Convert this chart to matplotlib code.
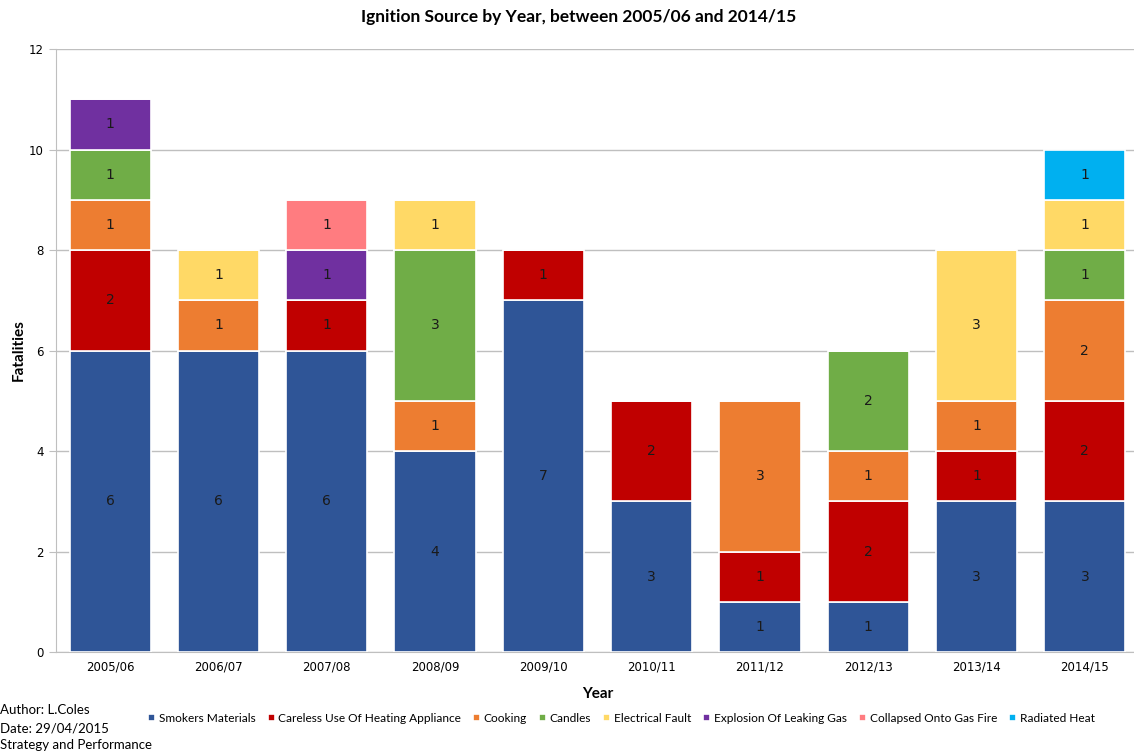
import matplotlib.pyplot as plt
import numpy as np

years = ["2005/06", "2006/07", "2007/08", "2008/09", "2009/10",
         "2010/11", "2011/12", "2012/13", "2013/14", "2014/15"]

smokers = [6, 6, 6, 4, 7, 3, 1, 1, 3, 3]
careless = [2, 0, 1, 0, 1, 2, 1, 2, 1, 2]
cooking = [1, 1, 0, 1, 0, 0, 3, 1, 1, 2]
candles = [1, 0, 0, 3, 0, 0, 0, 2, 0, 1]
electrical = [0, 1, 0, 1, 0, 0, 0, 0, 3, 1]
explosion = [1, 0, 1, 0, 0, 0, 0, 0, 0, 0]
collapsed = [0, 0, 1, 0, 0, 0, 0, 0, 0, 0]
radiated = [0, 0, 0, 0, 0, 0, 0, 0, 0, 1]

series = [
    ("Smokers Materials", smokers, "#2F5597"),
    ("Careless Use Of Heating Appliance", careless, "#C00000"),
    ("Cooking", cooking, "#ED7D31"),
    ("Candles", candles, "#70AD47"),
    ("Electrical Fault", electrical, "#FFD966"),
    ("Explosion Of Leaking Gas", explosion, "#7030A0"),
    ("Collapsed Onto Gas Fire", collapsed, "#FF7C80"),
    ("Radiated Heat", radiated, "#00B0F0"),
]

plt.rcParams["font.family"] = ["Lato", "DejaVu Sans"]

fig = plt.figure(figsize=(11.34, 7.53), dpi=100)
ax = fig.add_axes([0.0494, 0.1341, 0.955, 0.8008])

x = np.arange(len(years))
bottom = np.zeros(len(years))
for name, vals, color in series:
    vals = np.array(vals, dtype=float)
    ax.bar(x, vals, 0.75, bottom=bottom, color=color, label=name,
           edgecolor="white", linewidth=1.2, zorder=3)
    for xi, v, b in zip(x, vals, bottom):
        if v > 0:
            ax.text(xi, b + v / 2, f"{int(v)}", ha="center", va="center",
                    fontsize=10, family="DejaVu Sans", color="#1a1a1a", zorder=4)
    bottom += vals

ax.set_xlim(-0.5, len(years) - 0.5)
ax.set_ylim(0, 12)
ax.set_yticks(range(0, 13, 2))
ax.set_xticks(x)
ax.set_xticklabels(years, family="DejaVu Sans", fontsize=8.5)
ax.tick_params(axis="y", labelsize=8.5, length=5, color="#BFBFBF", pad=4)
ax.tick_params(axis="x", length=0, pad=6)
for lbl in ax.get_yticklabels():
    lbl.set_family("DejaVu Sans")

ax.grid(axis="y", color="#BFBFBF", linewidth=1, zorder=0)
for side in ["top", "right"]:
    ax.spines[side].set_visible(False)
ax.spines["left"].set_color("#BFBFBF")
ax.spines["bottom"].set_color("#BFBFBF")

ax.set_xlabel("Year", fontsize=11, fontweight="bold", labelpad=10)
ax.set_ylabel("Fatalities", fontsize=11, fontweight="bold", labelpad=2)
fig.text(0.51, 0.977, "Ignition Source by Year, between 2005/06 and 2014/15",
         ha="center", va="center", fontsize=12.5, fontweight="bold")

fig.legend(loc="center", bbox_to_anchor=(0.548, 0.046), ncol=8, frameon=False,
           fontsize=8.6, handlelength=0.6, handleheight=0.6, handletextpad=0.3,
           columnspacing=1.0)

fig.text(0.0, 0.057, "Author: L.Coles", fontsize=9.5, va="center")
fig.text(0.0, 0.033, "Date: 29/04/2015", fontsize=9.5, va="center")
fig.text(0.0, 0.010, "Strategy and Performance", fontsize=9.5, va="center")

fig.savefig("out.png", dpi=100)
